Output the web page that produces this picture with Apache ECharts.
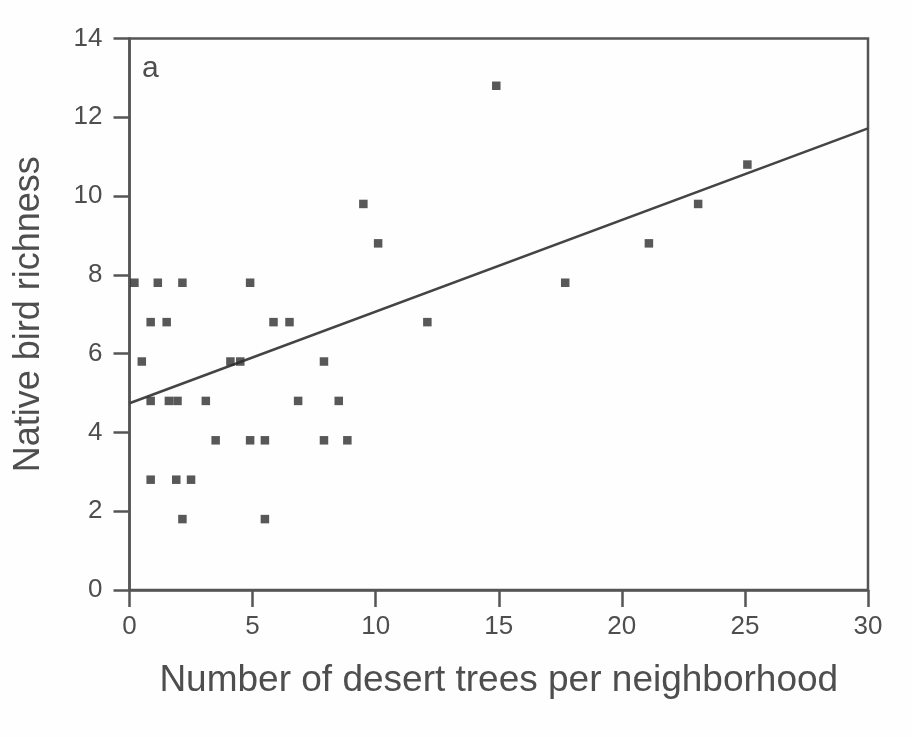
<!DOCTYPE html>
<html>
<head>
<meta charset="utf-8">
<script src="https://cdn.jsdelivr.net/npm/echarts@6/dist/echarts.min.js"></script>
<style>
html,body{margin:0;padding:0;background:#fefefe;}
#topbar{position:absolute;left:0;top:0;width:912px;height:4px;background:#3a3a3a;}
#chart{width:912px;height:737px;}
</style>
</head>
<body>
<div id="topbar"></div>
<div id="chart"></div>
<script>
// Data
var treesX = [0.2, 1.15, 2.15, 4.9,
              0.86, 1.51, 5.85, 6.5,
              0.5, 4.1, 4.5, 7.9,
              0.86, 1.6, 1.95, 3.1, 6.85, 8.5,
              3.5, 4.9, 5.5, 7.9, 8.85,
              0.86, 1.9, 2.5,
              2.15, 5.5,
              14.9, 9.5, 10.1, 12.1, 17.7, 21.1, 23.1, 25.1];
var richnessY = [7.8, 7.8, 7.8, 7.8,
                 6.8, 6.8, 6.8, 6.8,
                 5.8, 5.8, 5.8, 5.8,
                 4.8, 4.8, 4.8, 4.8, 4.8, 4.8,
                 3.8, 3.8, 3.8, 3.8, 3.8,
                 2.8, 2.8, 2.8,
                 1.8, 1.8,
                 12.8, 9.8, 8.8, 6.8, 7.8, 8.8, 9.8, 10.8];
var fitX = [0, 30];
var fitY = [4.74, 11.72];
var xTicks = [0, 5, 10, 15, 20, 25, 30];
var yTicks = [0, 2, 4, 6, 8, 10, 12, 14];
var xTitle = 'Number of desert trees per neighborhood';
var yTitle = 'Native bird richness';
var panelLabel = 'a';

var pts = treesX.map(function (x, i) { return [x, richnessY[i]]; });
var fit = fitX.map(function (x, i) { return [x, fitY[i]]; });

var textColor = '#4e4e4e';
var lineColor = '#555';
var font = 'Liberation Sans, Arial, Helvetica, sans-serif';

var chart = echarts.init(document.getElementById('chart'), null, {renderer: 'canvas'});
chart.setOption({
  backgroundColor: '#fefefe',
  animation: false,
  grid: {
    left: 129.5, right: 44, top: 38.5, bottom: 147,
    show: true, borderColor: lineColor, borderWidth: 2.5, backgroundColor: 'transparent'
  },
  xAxis: {
    type: 'value', min: xTicks[0], max: xTicks[xTicks.length - 1], interval: 5,
    name: xTitle, nameLocation: 'middle', nameGap: 72,
    nameTextStyle: {fontFamily: font, fontSize: 37, color: textColor},
    axisLine: {show: true, onZero: false, lineStyle: {color: lineColor, width: 2.5}},
    axisTick: {show: true, inside: false, length: 17, lineStyle: {color: lineColor, width: 2.5}},
    axisLabel: {fontFamily: font, fontSize: 26, color: textColor, margin: 24},
    splitLine: {show: false}
  },
  yAxis: {
    type: 'value', min: yTicks[0], max: yTicks[yTicks.length - 1], interval: 2,
    name: yTitle, nameLocation: 'middle', nameGap: 82, nameRotate: 90,
    nameTextStyle: {fontFamily: font, fontSize: 36, color: textColor},
    axisLine: {show: true, onZero: false, lineStyle: {color: lineColor, width: 2.5}},
    axisTick: {show: true, inside: false, length: 16, lineStyle: {color: lineColor, width: 2.5}},
    axisLabel: {fontFamily: font, fontSize: 26, color: textColor, margin: 27},
    splitLine: {show: false}
  },
  graphic: [{
    type: 'text', left: 142, top: 54,
    style: {text: panelLabel, fontFamily: font, fontSize: 30, fill: textColor}
  }],
  series: [
    {
      type: 'line', data: fit, showSymbol: false, symbol: 'none',
      lineStyle: {color: '#444', width: 2.5}, z: 2, silent: true
    },
    {
      type: 'scatter', data: pts, symbol: 'rect', symbolSize: 8.5,
      itemStyle: {color: '#2e2e2e'}, z: 3
    }
  ]
});
</script>
</body>
</html>
